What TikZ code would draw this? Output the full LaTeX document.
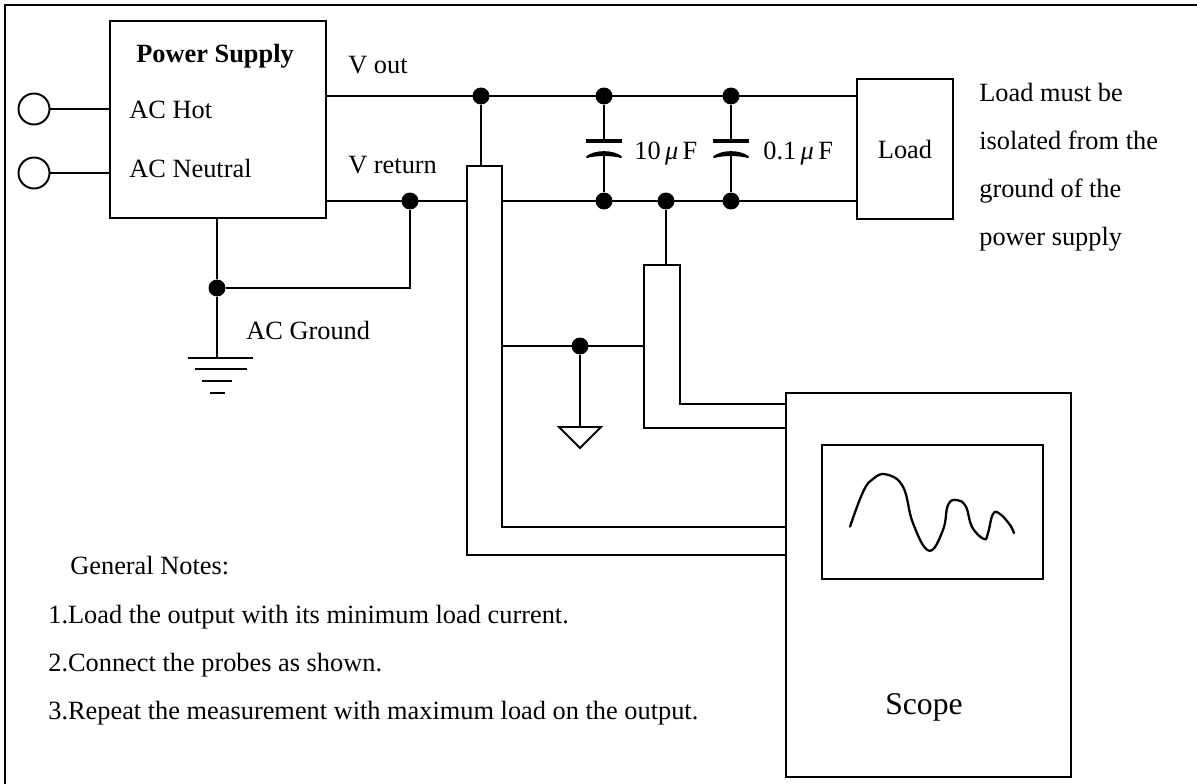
\documentclass[tikz,border=0pt]{standalone}
\usepackage{fontspec}
\setmainfont{Liberation Serif}
\usetikzlibrary{positioning,calc}

\tikzset{
    wire/.style={line width=1.1pt,line join=miter},
    dotnode/.style={circle,fill=black,inner sep=0pt,minimum size=0.34cm},
    terminal/.style={circle,draw,line width=1.1pt,inner sep=0pt,minimum size=0.62cm},
    txt/.style={anchor=base west,inner sep=0pt,yshift=-0.03cm,font=\fontsize{15}{18}\selectfont},
}

\begin{document}
\begin{tikzpicture}[x=0.02cm,y=-0.02cm]
        \useasboundingbox (0,0) rectangle (1197,784);

        %%%% Page edge ==================================
        \coordinate (edgetl) at (5,5);
        \coordinate (edgetr) at (1197,5);
        \coordinate (edgebl) at (5,784);
        \draw[wire] (edgetr) -- (edgetl) -- (edgebl);

        %%%% Supply =====================================
        \begin{scope}
            % Box
            \coordinate (psutl) at (110,21);
            \coordinate (psubr) at (326,218);
            \draw[wire] (psutl) rectangle (psubr);

            % Terminals
            \node[terminal] (hot) at (34,109) {};
            \node[terminal] (neutral) at (34,173) {};
            \draw[wire] (hot) -- (hot -| psutl);
            \draw[wire] (neutral) -- (neutral -| psutl);

            % Labels
            \node[txt,font=\fontsize{15}{18}\selectfont\bfseries] (psulabel) at (136,61) {Power Supply};
            \node[txt] (hotlabel) at (129,117) {AC Hot};
            \node[txt] (neutrallabel) at (129,176) {AC Neutral};
            \node[txt] (voutlabel) at (348,72) {V out};
            \node[txt] (vretlabel) at (348,172) {V return};
            \node[txt] (aclabel) at (246,338) {AC Ground};
        \end{scope}

        %%%% Load =======================================
        \node[draw,line width=1.1pt,inner sep=0pt,minimum width=1.92cm,minimum height=2.8cm,
            font=\fontsize{15}{18}\selectfont] (load) at (905,149) {Load};
        \coordinate (loadout) at (857,96);
        \coordinate (loadret) at (857,201);

        %%%% Rails ======================================
        % Dots
        \node[dotnode] (d1) at (481,96) {};
        \node[dotnode] (d2) at (604,96) {};
        \node[dotnode] (d3) at (731,96) {};
        \node[dotnode] (d4) at (410,201) {};
        \node[dotnode] (d5) at (604,201) {};
        \node[dotnode] (d6) at (666,201) {};
        \node[dotnode] (d7) at (731,201) {};
        \node[dotnode] (d8) at (217,288) {};
        \node[dotnode] (d9) at (580,346) {};

        % Rail ends
        \coordinate (psuout) at (326,96);
        \coordinate (psuret) at (326,201);
        \coordinate (probeleft) at (467,201);
        \coordinate (proberight) at (502,201);

        \draw[wire] (psuout) -- (loadout);
        \draw[wire] (psuret) -- (probeleft);
        \draw[wire] (proberight) -- (loadret);

        %%%% Capacitors =================================
        \foreach \capx/\capname in {604/d2,731/d3} {
            \coordinate (plate\capx) at (\capx,141);
            \coordinate (arch\capx) at (\capx,152);
            \draw[wire] (\capname) -- (plate\capx);
            \draw[line width=2pt] ($(plate\capx)+(-18,0)$) -- ($(plate\capx)+(18,0)$);
            \draw[fill=black,line width=1.1pt,line join=round] ($(arch\capx)+(-17,5)$)
                .. controls ($(arch\capx)+(-9,-1.5)$) and ($(arch\capx)+(9,-1.5)$) .. ($(arch\capx)+(17,5)$)
                .. controls ($(arch\capx)+(9,2.5)$) and ($(arch\capx)+(-9,2.5)$) .. cycle;
        }
        \draw[wire] (arch604) -- (d5);
        \draw[wire] (arch731) -- (d7);
        \node[txt] (c1label) at (634,158) {10\,\textit{μ}\,F};
        \node[txt] (c2label) at (763,158) {0.1\,\textit{μ}\,F};

        %%%% Ground =====================================
        \coordinate (psubottom) at (217,218);
        \coordinate (gnd) at (217,358);
        \coordinate (gndtee) at (410,288);
        \draw[wire] (psubottom) -- (d8) -- (gnd);
        \draw[wire] (d8) -- (gndtee) -- (d4);
        \draw[wire] (188,358) -- (253,358);
        \draw[wire] (195,369) -- (247,369);
        \draw[wire] (202,381) -- (232,381);
        \draw[wire] (210,393) -- (225,393);

        %%%% Scope ======================================
        \coordinate (scopetl) at (786,393);
        \coordinate (scopebr) at (1071,777);
        \draw[wire] (scopetl) rectangle (scopebr);
        \coordinate (screentl) at (822,445);
        \coordinate (screenbr) at (1043,579);
        \draw[wire] (screentl) rectangle (screenbr);
        \node[txt,font=\fontsize{18}{22}\selectfont] (scopelabel) at (885,713) {Scope};

        % Trace
        \draw[line width=1.3pt,line cap=round] plot[smooth,tension=0.7] coordinates {
            (850,526.7) (863,492) (873,479) (886,474.3) (903,486.7) (913,523.3)
            (929,550.7) (943,530) (948,505) (957,500) (966,506.7) (972,527)
            (984,539) (988,533) (993,514) (1000,514) (1010,525) (1014,533)};

        %%%% Probes =====================================
        % Outer probe
        \coordinate (p1a) at (786,555);
        \coordinate (p1b) at (467,166);
        \coordinate (p1c) at (502,527);
        \coordinate (p1d) at (786,527);
        \draw[wire] (p1a) -| (p1b) -| (p1c) -- (p1d);
        \draw[wire] (d1) -- (d1 |- p1b);

        % Inner probe
        \coordinate (p2a) at (786,428);
        \coordinate (p2b) at (644,265);
        \coordinate (p2c) at (680,404);
        \coordinate (p2d) at (786,404);
        \draw[wire] (p2a) -| (p2b) -| (p2c) -- (p2d);
        \draw[wire] (d6) -- (d6 |- p2b);

        % Probe grounds
        \coordinate (shieldleft) at (502,346);
        \coordinate (shieldright) at (644,346);
        \coordinate (gndtip) at (580,427);
        \draw[wire] (shieldleft) -- (shieldright);
        \draw[wire] (d9) -- (gndtip);
        \draw[wire,line join=miter] (559,427) -- (601,427) -- (580,448) -- cycle;

        %%%% Notes ======================================
        \node[txt] (loadnote1) at (979,100) {Load must be};
        \node[txt] (loadnote2) at (979,148) {isolated from the};
        \node[txt] (loadnote3) at (979,196) {ground of the};
        \node[txt] (loadnote4) at (979,244) {power supply};

        \node[txt] (notes) at (70,573) {General Notes:};
        \node[txt] (note1) at (48,622) {1.Load the output with its minimum load current.};
        \node[txt] (note2) at (48,670) {2.Connect the probes as shown.};
        \node[txt] (note3) at (48,718) {3.Repeat the measurement with maximum load on the output.};
    \end{tikzpicture}
\end{document}
